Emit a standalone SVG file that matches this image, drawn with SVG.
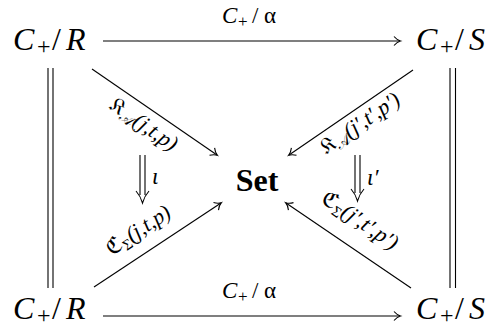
<svg xmlns="http://www.w3.org/2000/svg" width="492" height="333" viewBox="0 0 492 333">
<style>
.n{font-family:'Liberation Serif','Times New Roman',Times,serif;font-size:32px;fill:#000}
.i{font-style:italic}
.sub{font-size:24px}
.l{font-family:'Liberation Serif','Times New Roman',Times,serif;font-size:23px;fill:#000}
.ls{font-size:17px}
.d{font-family:'Liberation Serif','Times New Roman','DejaVu Serif','DejaVu Sans',serif;font-size:22px;fill:#000}
.ds{font-size:15px}
.ln{stroke:#000;stroke-width:1.1;fill:none}
</style>
<defs>
<marker id="ah" markerWidth="12" markerHeight="12" refX="9" refY="6" orient="auto" markerUnits="userSpaceOnUse">
<path d="M3,1.5 Q6,5 9.5,6 Q6,7 3,10.5" fill="none" stroke="#000" stroke-width="1.1"/>
</marker>
</defs>
<g id="connectors">
<line class="ln" x1="103" y1="41" x2="400" y2="41" marker-end="url(#ah)"/>
<text class="l" y="23"><tspan x="222" class="i">C</tspan><tspan x="238" dy="4" class="ls">+</tspan><tspan x="252" dy="-4">/</tspan><tspan x="264">α</tspan></text>
<line class="ln" x1="103" y1="316" x2="400" y2="316" marker-end="url(#ah)"/>
<text class="l" y="298"><tspan x="222" class="i">C</tspan><tspan x="238" dy="4" class="ls">+</tspan><tspan x="252" dy="-4">/</tspan><tspan x="264">α</tspan></text>
<line class="ln" x1="48" y1="68" x2="48" y2="288"/>
<line class="ln" x1="53" y1="68" x2="53" y2="288"/>
<line class="ln" x1="450" y1="68" x2="450" y2="288"/>
<line class="ln" x1="455.5" y1="68" x2="455.5" y2="288"/>
<line class="ln" x1="92" y1="69" x2="217" y2="155" marker-end="url(#ah)"/>
<line class="ln" x1="94" y1="287" x2="221" y2="203" marker-end="url(#ah)"/>
<line class="ln" x1="413" y1="70" x2="289" y2="155" marker-end="url(#ah)"/>
<line class="ln" x1="411" y1="288" x2="286" y2="203" marker-end="url(#ah)"/>
<text class="d" transform="translate(140,130) rotate(34.5)" text-anchor="middle">𝔎<tspan class="ds" dy="4">𝒜</tspan><tspan dy="-4" font-style="italic">(j,t,p)</tspan></text>
<text class="d" transform="translate(142,236) rotate(-33.5)" text-anchor="middle">ℭ<tspan class="ds" dy="4">Σ</tspan><tspan dy="-4" font-style="italic">(j,t,p)</tspan></text>
<text class="d" transform="translate(364,129) rotate(-34.4)" text-anchor="middle">𝔎<tspan class="ds" dy="4">𝒜</tspan><tspan dy="-4" font-style="italic">(j′,t′,p′)</tspan></text>
<text class="d" transform="translate(356,226) rotate(34.2)" text-anchor="middle">ℭ<tspan class="ds" dy="4">Σ</tspan><tspan dy="-4" font-style="italic">(j′,t′,p′)</tspan></text>
<path class="ln" d="M140,155 V195 M145,155 V195 M136,191 Q140.5,196 142.5,203 Q144.5,196 149,191"/>
<text class="l" x="152" y="184" font-style="italic">ι</text>
<path class="ln" d="M355,155 V193 M360,155 V193 M351,189 Q355.5,194 357.5,201 Q359.5,194 364,189"/>
<text class="l" x="367" y="185" font-style="italic">ι′</text>
</g>
<g id="node-tl"><text class="n" y="50"><tspan x="13" class="i">C</tspan><tspan x="37" dy="4" class="sub">+</tspan><tspan x="52" dy="-4">/</tspan><tspan x="66" class="i">R</tspan></text></g>
<g id="node-tr"><text class="n" y="50"><tspan x="416" class="i">C</tspan><tspan x="440" dy="4" class="sub">+</tspan><tspan x="455" dy="-4">/</tspan><tspan x="469" class="i">S</tspan></text></g>
<g id="node-bl"><text class="n" y="319"><tspan x="13" class="i">C</tspan><tspan x="37" dy="4" class="sub">+</tspan><tspan x="52" dy="-4">/</tspan><tspan x="66" class="i">R</tspan></text></g>
<g id="node-br"><text class="n" y="319"><tspan x="416" class="i">C</tspan><tspan x="440" dy="4" class="sub">+</tspan><tspan x="455" dy="-4">/</tspan><tspan x="469" class="i">S</tspan></text></g>
<g id="node-set"><text class="n" x="257" y="191" text-anchor="middle" font-weight="bold" font-size="30">Set</text></g>
</svg>
